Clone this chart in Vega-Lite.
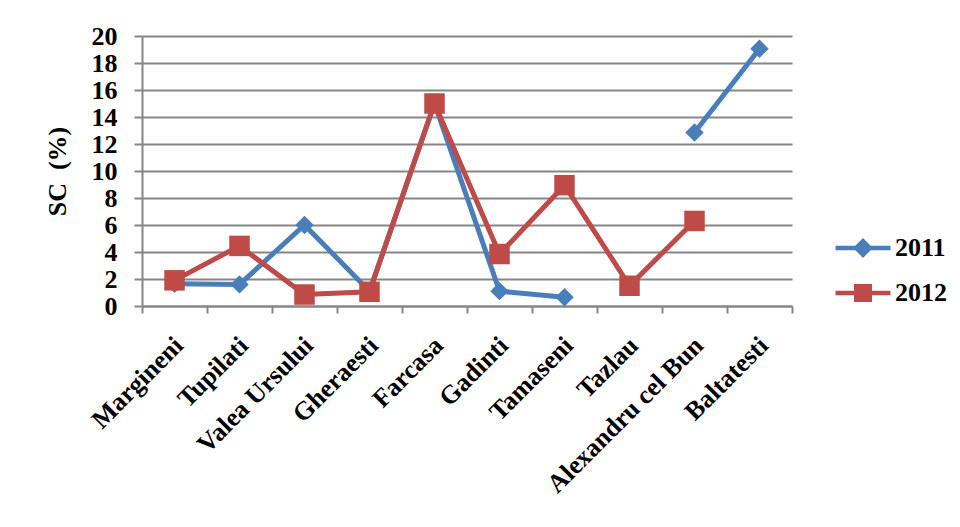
{
  "$schema": "https://vega.github.io/schema/vega-lite/v6.json",
  "width": 650,
  "height": 270,
  "padding": {"left": 44, "top": 23, "right": 5, "bottom": 5},
  "background": "white",
  "data": {
    "values": [
      {"site": "Margineni", "year": "2011", "sc": 1.65},
      {"site": "Tupilati", "year": "2011", "sc": 1.6},
      {"site": "Valea Ursului", "year": "2011", "sc": 6.0},
      {"site": "Gheraesti", "year": "2011", "sc": 1.1},
      {"site": "Farcasa", "year": "2011", "sc": 15.0},
      {"site": "Gadinti", "year": "2011", "sc": 1.1},
      {"site": "Tamaseni", "year": "2011", "sc": 0.65},
      {"site": "Tazlau", "year": "2011", "sc": null},
      {"site": "Alexandru cel Bun", "year": "2011", "sc": 12.85},
      {"site": "Baltatesti", "year": "2011", "sc": 19.05},
      {"site": "Margineni", "year": "2012", "sc": 1.9},
      {"site": "Tupilati", "year": "2012", "sc": 4.45},
      {"site": "Valea Ursului", "year": "2012", "sc": 0.85},
      {"site": "Gheraesti", "year": "2012", "sc": 1.05},
      {"site": "Farcasa", "year": "2012", "sc": 15.0},
      {"site": "Gadinti", "year": "2012", "sc": 3.85},
      {"site": "Tamaseni", "year": "2012", "sc": 8.95},
      {"site": "Tazlau", "year": "2012", "sc": 1.5},
      {"site": "Alexandru cel Bun", "year": "2012", "sc": 6.3},
      {"site": "Baltatesti", "year": "2012", "sc": null}
    ]
  },
  "encoding": {
    "x": {
      "field": "site",
      "type": "nominal",
      "sort": null,
      "scale": {"type": "band", "paddingInner": 0, "paddingOuter": 0},
      "axis": {
        "title": null,
        "tickBand": "extent",
        "labelAngle": -45,
        "labelAlign": "right",
        "labelBaseline": "middle",
        "labelPadding": 28,
        "labelOffset": 4,
        "labelLimit": 0,
        "labelFont": "Liberation Serif",
        "labelFontWeight": "bold",
        "labelFontSize": 26,
        "labelColor": "black",
        "tickSize": 7,
        "tickColor": "#868686",
        "tickWidth": 2,
        "domainColor": "#868686",
        "domainWidth": 2,
        "grid": false
      }
    },
    "y": {
      "field": "sc",
      "type": "quantitative",
      "scale": {"domain": [0, 20], "nice": false, "zero": true},
      "axis": {
        "title": "SC\u00a0\u00a0(%)",
        "titleFont": "Liberation Serif",
        "titleFontWeight": "bold",
        "titleFontSize": 26,
        "titleColor": "black",
        "titlePadding": 21,
        "values": [0, 2, 4, 6, 8, 10, 12, 14, 16, 18, 20],
        "labelFont": "Liberation Serif",
        "labelFontWeight": "bold",
        "labelFontSize": 26,
        "labelColor": "black",
        "labelPadding": 17,
        "tickSize": 8,
        "tickColor": "#868686",
        "tickWidth": 2,
        "domainColor": "#868686",
        "domainWidth": 2,
        "grid": true,
        "gridColor": "#868686",
        "gridWidth": 2
      }
    }
  },
  "layer": [
    {
      "mark": {"type": "line", "strokeWidth": 5, "invalid": "break-paths-show-domains"},
      "encoding": {
        "color": {
          "field": "year",
          "type": "nominal",
          "scale": {"domain": ["2011", "2012"], "range": ["#4A7EBB", "#BE4B48"]},
          "legend": {
            "title": null,
            "orient": "none",
            "legendX": 708,
            "legendY": 199,
            "symbolSize": 484,
            "symbolType": "M-2.5,-0.18H2.5V0.18H-2.5Z",
            "labelOffset": 19,
            "rowPadding": 19,
            "labelFont": "Liberation Serif",
            "labelFontWeight": "bold",
            "labelFontSize": 26,
            "labelColor": "black",
            "encode": {
              "symbols": {
                "update": {
                  "shape": {"signal": "datum.value === '2011' ? 'M-2.5,-0.2H2.5V0.2H-2.5Z M0,-0.9L0.9,0L0,0.9L-0.9,0Z' : 'M-2.5,-0.2H2.5V0.2H-2.5Z M-0.82,-0.82H0.82V0.82H-0.82Z'"},
                  "fill": {"signal": "datum.value === '2011' ? '#4A7EBB' : '#BE4B48'"},
                  "fillOpacity": {"value": 1},
                  "opacity": {"value": 1},
                  "strokeWidth": {"value": 0}
                }
              }
            }
          }
        }
      }
    },
    {
      "transform": [{"filter": "datum.year === '2011'"}],
      "mark": {"type": "point", "shape": "diamond", "filled": true, "opacity": 1, "size": 340, "color": "#4A7EBB"}
    },
    {
      "transform": [{"filter": "datum.year === '2012'"}],
      "mark": {"type": "point", "shape": "square", "filled": true, "opacity": 1, "size": 420, "color": "#BE4B48"}
    }
  ],
  "config": {
    "view": {"stroke": null}
  }
}
